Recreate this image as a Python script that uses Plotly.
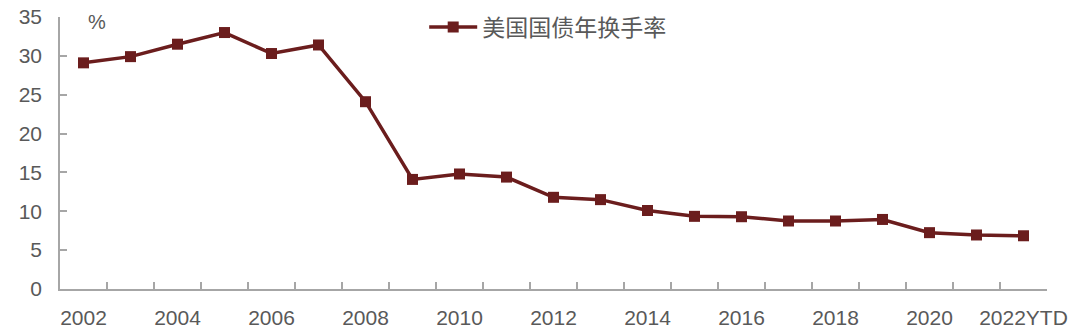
import plotly.graph_objects as go

categories = ["2002", "2003", "2004", "2005", "2006", "2007", "2008", "2009", "2010", "2011",
              "2012", "2013", "2014", "2015", "2016", "2017", "2018", "2019", "2020", "2021", "2022YTD"]
turnover = [29.1, 29.9, 31.5, 33.0, 30.3, 31.4, 24.1, 14.1, 14.8, 14.4,
            11.8, 11.5, 10.1, 9.35, 9.3, 8.75, 8.75, 8.95, 7.25, 6.95, 6.85]
series_name = "美国国债年换手率"
y_ticks = [0, 5, 10, 15, 20, 25, 30, 35]
x_tick_labels = [c if i % 2 == 0 else "" for i, c in enumerate(categories)]

line_color = "#6B1D1D"
axis_color = "#A6A6A6"
text_color = "#595959"
font_family = "Liberation Sans, Arial, Noto Sans CJK SC, sans-serif"

fig = go.Figure()
fig.add_trace(go.Scatter(
    x=categories, y=turnover, name=series_name, mode="lines+markers",
    line=dict(color=line_color, width=3.5),
    marker=dict(symbol="square", size=11, color=line_color),
))

fig.update_layout(
    width=1080, height=336,
    margin=dict(l=60, r=33, t=17, b=47, autoexpand=False),
    paper_bgcolor="white", plot_bgcolor="white",
    font=dict(family=font_family, size=20, color=text_color),
    showlegend=True,
    legend=dict(x=0.369, y=(289 - 27) / 272, xanchor="left", yanchor="middle",
                bgcolor="rgba(0,0,0,0)", itemwidth=48,
                font=dict(size=23, color=text_color, family="Noto Sans CJK SC, sans-serif")),
    xaxis=dict(
        type="category", range=[-0.5, len(categories) - 0.5],
        tickmode="array", tickvals=categories, ticktext=x_tick_labels,
        tickson="boundaries", ticks="inside", ticklen=7, tickcolor=axis_color, tickwidth=1.5,
        showline=True, linecolor=axis_color, linewidth=1.5, mirror=False,
        showgrid=False, zeroline=False, tickfont=dict(size=21, color=text_color),
        tickangle=0, automargin=False, ticklabelstandoff=9,
    ),
    yaxis=dict(
        range=[0, 35], tickmode="array", tickvals=y_ticks,
        ticks="inside", ticklen=7, tickcolor=axis_color, tickwidth=1.5,
        showline=True, linecolor=axis_color, linewidth=1.5,
        showgrid=False, zeroline=False, tickfont=dict(size=21, color=text_color),
        automargin=False, ticklabelstandoff=12,
    ),
)

fig.add_annotation(text="%", xref="paper", yref="paper", x=(97 - 60) / 987, y=(289 - 22) / 272,
                   showarrow=False, font=dict(size=20, color=text_color), xanchor="center", yanchor="middle")

fig.write_html("out.html")
